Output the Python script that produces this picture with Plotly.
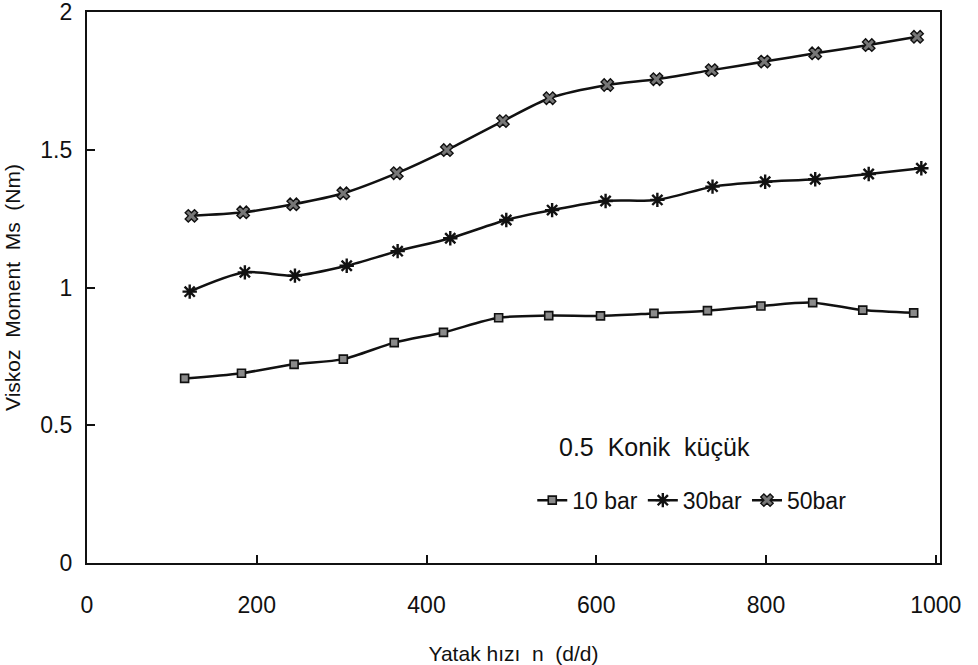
import plotly.graph_objects as go

# Bearing speed (rpm) and viscous moment (Nm) for each supply pressure
speed_10 = [115, 182, 244, 302, 362, 420, 485, 544, 605, 668, 731, 794, 855, 914, 974]
moment_10 = [0.670, 0.689, 0.721, 0.740, 0.800, 0.837, 0.890, 0.898, 0.897, 0.906, 0.916, 0.933, 0.945, 0.918, 0.908]

speed_30 = [121, 186, 245, 306, 366, 428, 494, 548, 611, 672, 737, 799, 858, 921, 983]
moment_30 = [0.985, 1.055, 1.043, 1.079, 1.132, 1.179, 1.245, 1.281, 1.314, 1.318, 1.366, 1.384, 1.393, 1.412, 1.433]

speed_50 = [123, 184, 243, 302, 365, 424, 490, 545, 613, 671, 736, 798, 858, 921, 978]
moment_50 = [1.260, 1.273, 1.302, 1.342, 1.415, 1.499, 1.604, 1.687, 1.735, 1.756, 1.789, 1.820, 1.850, 1.880, 1.910]

series_names = ["10 bar", "30bar", "50bar"]
x_ticks = [0, 200, 400, 600, 800, 1000]
y_ticks = [0, 0.5, 1, 1.5, 2]
y_tick_text = ["0", "0.5", "1", "1.5", "2"]

FONT = "Liberation Sans"
INK = "#111111"

fig = go.Figure()

fig.add_trace(go.Scatter(
    x=speed_10, y=moment_10, name=series_names[0],
    mode="lines+markers",
    line=dict(color=INK, width=2.5, shape="spline", smoothing=0.8),
    marker=dict(symbol="square", size=8, color="#8a8a8a",
                line=dict(color=INK, width=1.6)),
))
fig.add_trace(go.Scatter(
    x=speed_30, y=moment_30, name=series_names[1],
    mode="lines+markers",
    line=dict(color=INK, width=2.5, shape="spline", smoothing=0.8),
    marker=dict(symbol="asterisk-open", size=12, color=INK,
                line=dict(color=INK, width=2.4)),
))
fig.add_trace(go.Scatter(
    x=speed_50, y=moment_50, name=series_names[2],
    mode="lines+markers",
    line=dict(color=INK, width=2.5, shape="spline", smoothing=0.8),
    marker=dict(symbol="x", size=11, color="#777777",
                line=dict(color=INK, width=1.4)),
))

fig.add_annotation(
    text="0.5  Konik  küçük", xref="paper", yref="paper",
    x=0.665, y=0.181, showarrow=False,
    font=dict(family=FONT, size=25, color=INK),
)

fig.update_layout(
    width=978, height=665,
    margin=dict(l=87, r=38, t=12, b=102),
    paper_bgcolor="white", plot_bgcolor="white",
    font=dict(family=FONT, size=20, color=INK),
    showlegend=True,
    legend=dict(
        orientation="h", x=0.522, y=0.114, xanchor="left", yanchor="middle",
        bgcolor="rgba(0,0,0,0)", font=dict(family=FONT, size=23, color=INK),
        itemwidth=30, tracegroupgap=0,
    ),
    xaxis=dict(
        range=[0, 1005], tickvals=x_ticks, ticks="inside", ticklen=8,
        tickwidth=1.5, tickcolor=INK, showgrid=False, zeroline=False,
        showline=True, linewidth=2.2, linecolor=INK, mirror=True,
        ticklabelstandoff=20, automargin=False, ticklabeloverflow="allow",
        tickfont=dict(family=FONT, size=23, color=INK),
        title=dict(text="Yatak hızı  n  (d/d)", standoff=32,
                   font=dict(family=FONT, size=21, color=INK)),
    ),
    yaxis=dict(
        range=[0, 2], tickvals=y_ticks, ticktext=y_tick_text, ticks="inside",
        ticklen=8, tickwidth=1.5, tickcolor=INK, showgrid=False,
        zeroline=False, showline=True, linewidth=2.2, linecolor=INK,
        mirror=True, ticklabelstandoff=8, automargin=False,
        ticklabeloverflow="allow",
        tickfont=dict(family=FONT, size=23, color=INK),
        title=dict(text="Viskoz  Moment  Ms  (Nm)", standoff=14,
                   font=dict(family=FONT, size=21, color=INK)),
    ),
)

fig.write_html("out.html")
